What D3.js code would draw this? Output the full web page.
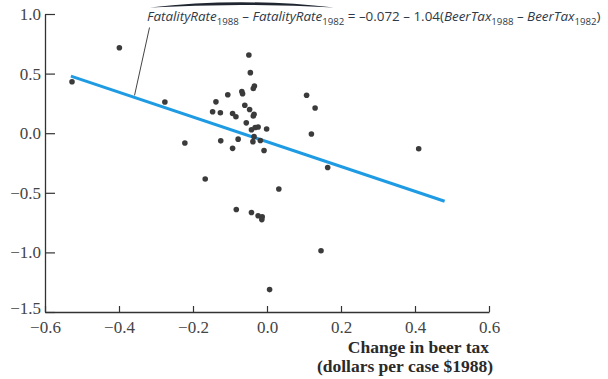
<!DOCTYPE html>
<html>
<head>
<meta charset="utf-8">
<script src="https://cdn.jsdelivr.net/npm/d3@7"></script>
<style>
  html, body { margin: 0; padding: 0; background: #fff; overflow: hidden; }
  svg { display: block; }
</style>
</head>
<body>
<svg width="608" height="379" viewBox="0 0 608 379"></svg>
<script>
// change in beer tax (x) vs change in fatality rate (y), one point per state
let taxChange = [-0.527, -0.399, -0.276, -0.222, -0.167, -0.147, -0.138, -0.126, -0.125, -0.106,
    -0.093, -0.084, -0.093, -0.078, -0.083, -0.068, -0.066, -0.060, -0.056, -0.049,
    -0.045, -0.047, -0.037, -0.034, -0.035, -0.037, -0.042, -0.032, -0.024, -0.035,
    -0.038, -0.018, -0.042, -0.024, -0.013, -0.014, -0.008, -0.001, 0.007, 0.032,
    0.107, 0.130, 0.120, 0.146, 0.164, 0.410];
let fatalChange = [0.432, 0.717, 0.262, -0.082, -0.384, 0.180, 0.263, 0.171, -0.064, 0.322,
    0.165, 0.138, -0.127, -0.050, -0.640, 0.350, 0.331, 0.234, 0.087, 0.656,
    0.508, 0.199, 0.375, 0.396, 0.159, 0.144, 0.029, 0.048, 0.052, -0.029,
    -0.071, -0.061, -0.665, -0.692, -0.701, -0.725, -0.145, 0.035, -1.312, -0.468,
    0.318, 0.211, -0.007, -0.986, -0.288, -0.130];

let xTicks = [-0.6, -0.4, -0.2, 0.0, 0.2, 0.4, 0.6];
let yTicks = [-1.5, -1.0, -0.5, 0.0, 0.5, 1.0];

// fitted line
let intercept = -0.072;
let slope = -1.04;
let fitRange = [-0.53, 0.48];

let svg = d3.select('svg');
let margin = {top: 14, left: 45};
let innerWidth = 444;
let innerHeight = 298;

let xScale = d3.scaleLinear().domain([-0.6, 0.6]).range([0, innerWidth]);
let yScale = d3.scaleLinear().domain([-1.5, 1.0]).range([innerHeight, 0]);

let g = svg.append('g')
    .attr('transform', `translate(${margin.left},${margin.top})`);

let serif = '"Liberation Serif", "DejaVu Serif", serif';

// axes, ticks pointing inward
let yAxis = g.append('g')
    .call(d3.axisLeft(yScale).tickValues(yTicks).tickFormat(d3.format('.1f'))
        .tickSizeInner(-10).tickSizeOuter(0).tickPadding(4));
let xAxis = g.append('g')
    .attr('transform', `translate(0,${innerHeight})`)
    .call(d3.axisBottom(xScale).tickValues(xTicks).tickFormat(d3.format('.1f'))
        .tickSizeInner(-6).tickSizeOuter(0).tickPadding(9));

[xAxis, yAxis].forEach(a => {
    a.select('.domain').attr('stroke', '#333').attr('stroke-width', 1.3);
    a.selectAll('.tick line').attr('stroke', '#333').attr('stroke-width', 1.2);
    a.selectAll('.tick text')
        .attr('font-family', serif)
        .attr('font-size', 17)
        .attr('fill', '#444');
});
// lowest y label sits a touch high so it clears the x labels
yAxis.selectAll('.tick text').filter(d => d === -1.5).attr('dy', '0.1em');

// axis title
let title = g.append('text')
    .attr('font-family', serif)
    .attr('font-size', 17.5)
    .attr('font-weight', 'bold')
    .attr('fill', '#2a2a2a')
    .attr('text-anchor', 'end');
title.append('tspan').attr('x', innerWidth).attr('y', 339).text('Change in beer tax');
title.append('tspan').attr('x', innerWidth + 4).attr('y', 358).text('(dollars per case $1988)');

// regression line
g.append('line')
    .attr('x1', xScale(fitRange[0]))
    .attr('y1', yScale(intercept + slope * fitRange[0]))
    .attr('x2', xScale(fitRange[1]))
    .attr('y2', yScale(intercept + slope * fitRange[1]))
    .attr('stroke', '#1e9be3')
    .attr('stroke-width', 3);

// points
g.selectAll('circle').data(taxChange)
    .enter().append('circle')
    .attr('cx', d => xScale(d))
    .attr('cy', (d, i) => yScale(fatalChange[i]))
    .attr('r', 2.8)
    .attr('fill', '#3b3b3b');

// annotation with equation
let px = xScale(-0.358);
let py = yScale(intercept + slope * -0.358) - 2;
g.append('line')
    .attr('x1', 104.5).attr('y1', 13.5)
    .attr('x2', px).attr('y2', py)
    .attr('stroke', '#444')
    .attr('stroke-width', 1);

svg.append('path')
    .attr('d', 'M150,7.5 Q240,-3 334,7.5 Q240,2.5 150,7.5 Z')
    .attr('fill', '#1f2630');

let eq = svg.append('text')
    .attr('x', 147).attr('y', 21)
    .attr('font-family', '"Liberation Sans Narrow", "Open Sans", "Noto Sans", sans-serif')
    .attr('fill', '#2e3a48');
let parts = [
    ['FatalityRate', 'i'], ['1988', 's'], [' – ', 'n'], ['FatalityRate', 'i'], ['1982', 's'],
    [' = –0.072 – 1.04(', 'n'], ['BeerTax', 'i'], ['1988', 's'], [' – ', 'n'],
    ['BeerTax', 'i'], ['1982', 's'], [')', 'n']
];
let lastSub = false;
parts.forEach(p => {
    let t = eq.append('tspan').text(p[0]).attr('class', p[1]);
    if (p[1] === 'i') t.attr('font-style', 'italic');
    if (p[1] === 's') {
        t.attr('dy', 4);
        lastSub = true;
    } else if (lastSub) {
        t.attr('dy', -4);
        lastSub = false;
    }
});
// size the equation so it spans the same width as in the book figure
let setSize = fs => {
    eq.attr('font-size', fs);
    eq.selectAll('tspan.s').attr('font-size', fs * 0.72);
};
setSize(14);
let w = eq.node().getComputedTextLength();
setSize(Math.min(16, 14 * 454 / w));
</script>
</body>
</html>
